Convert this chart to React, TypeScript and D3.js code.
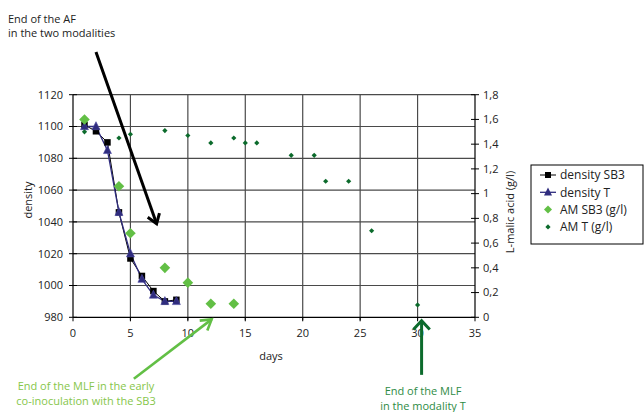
import React from 'react';
import * as d3 from 'd3';

const days = [1, 2, 3, 4, 5, 6, 7, 8, 9];
const densitySB3 = [1101, 1097, 1090, 1046, 1017, 1006, 996.5, 990, 991];
const densityT = [1100, 1100, 1085, 1046, 1020, 1004, 994, 990, 990];
const amSB3Days = [1, 4, 5, 8, 10, 12, 14];
const amSB3 = [1.6, 1.06, 0.68, 0.4, 0.28, 0.11, 0.11];
const amTDays = [1, 4, 5, 8, 10, 12, 14, 15, 16, 19, 21, 22, 24, 26, 30];
const amT = [1.5, 1.45, 1.48, 1.51, 1.47, 1.41, 1.45, 1.41, 1.41, 1.31, 1.31, 1.1, 1.1, 0.7, 0.1];
const xTicks = [0, 5, 10, 15, 20, 25, 30, 35];
const densityTicks = [980, 1000, 1020, 1040, 1060, 1080, 1100, 1120];
const malicTicks = [0, 0.2, 0.4, 0.6, 0.8, 1, 1.2, 1.4, 1.6, 1.8];
const legendItems = ['density SB3', 'density T', 'AM SB3 (g/l)', 'AM T (g/l)'];

const FONT = "'Open Sans', 'Noto Sans', sans-serif";
const NAVY = '#2f2c7e';
const LIGHT = '#62bf45';
const DARK = '#0c6b2c';

export default function App() {
  const W = 644, H = 412;
  const x = d3.scaleLinear().domain([0, 35]).range([73, 475]);
  const yL = d3.scaleLinear().domain([980, 1120]).range([317.3, 94.7]);
  const yR = d3.scaleLinear().domain([0, 1.8]).range([317.3, 94.7]);
  const pathSB3 = d3.line<number>().x((_, i) => x(days[i])).y(d => yL(d))(densitySB3) || '';
  const pathT = d3.line<number>().x((_, i) => x(days[i])).y(d => yL(d))(densityT) || '';
  const fmtR = (v: number) => (v === 0 ? '0' : d3.format('~g')(+v.toFixed(1))).replace('.', ',');

  const sq = (cx: number, cy: number, s: number) => `M${cx - s / 2},${cy - s / 2}h${s}v${s}h${-s}Z`;
  const tri = (cx: number, cy: number, s: number) =>
    `M${cx},${cy - s * 0.6}L${cx + s / 2},${cy + s * 0.4}L${cx - s / 2},${cy + s * 0.4}Z`;
  const dia = (cx: number, cy: number, r: number) => `M${cx},${cy - r}L${cx + r},${cy}L${cx},${cy + r}L${cx - r},${cy}Z`;

  const arrow = (x1: number, y1: number, x2: number, y2: number, len: number, ang: number) => {
    const a = Math.atan2(y1 - y2, x1 - x2);
    const p1 = [x2 + len * Math.cos(a + ang), y2 + len * Math.sin(a + ang)];
    const p2 = [x2 + len * Math.cos(a - ang), y2 + len * Math.sin(a - ang)];
    return {
      shaft: `M${x1},${y1}L${x2},${y2}`,
      head: `M${p1[0]},${p1[1]}L${x2},${y2}L${p2[0]},${p2[1]}`,
    };
  };
  const a1 = arrow(x(2.0), yL(1146.8), x(7.28), yL(1038.8), 11, 0.6);
  const a2 = arrow(x(5.3), yL(941.3), x(12.07), yL(978.7), 12, 0.55);
  const a3 = arrow(x(30.35), yL(943.8), x(30.35), yL(977.9), 12, 0.75);

  const lx = 531, ly = 165, lw = 112, lh = 79;

  return (
    <svg width={W} height={H} style={{ position: 'absolute', left: 0, top: 0 }} fontFamily={FONT}>
      <rect width={W} height={H} fill="#fff" />
      {/* gridlines */}
      {densityTicks.slice(1).map(t => (
        <line key={'h' + t} x1={x(0)} x2={x(35)} y1={yL(t)} y2={yL(t)} stroke="#4a4a4a" strokeWidth={1.2} />
      ))}
      {xTicks.slice(1, -1).map(t => (
        <line key={'v' + t} x1={x(t)} x2={x(t)} y1={yL(1120)} y2={yL(980) + 3} stroke="#4a4a4a" strokeWidth={1.2} />
      ))}
      {/* axes */}
      <line x1={x(0)} x2={x(35)} y1={yL(980)} y2={yL(980)} stroke="#000" strokeWidth={1.2} />
      <line x1={x(0)} x2={x(0)} y1={yL(1120)} y2={yL(980)} stroke="#000" strokeWidth={1.2} />
      <line x1={x(35)} x2={x(35)} y1={yL(1120)} y2={yL(980)} stroke="#000" strokeWidth={1.2} />
      {densityTicks.map(t => (
        <g key={'lt' + t}>
          <line x1={x(0) - 4} x2={x(0) + 4} y1={yL(t)} y2={yL(t)} stroke="#000" />
          <text x={x(0) - 10} y={yL(t)} dy="0.35em" textAnchor="end" fontSize={11} fill="#222">{t}</text>
        </g>
      ))}
      {malicTicks.map(t => (
        <g key={'rt' + t}>
          <line x1={x(35) - 4} x2={x(35) + 4} y1={yR(t)} y2={yR(t)} stroke="#000" />
          <text x={x(35) + 8} y={yR(t)} dy="0.35em" textAnchor="start" fontSize={11} fill="#222">{fmtR(t)}</text>
        </g>
      ))}
      {xTicks.map(t => (
        <g key={'xt' + t}>
          <line x1={x(t)} x2={x(t)} y1={yL(980)} y2={yL(980) + 4} stroke="#000" />
          <text x={x(t)} y={yL(980) + 20} textAnchor="middle" fontSize={11} fill="#222">{t}</text>
        </g>
      ))}
      <text transform={`translate(32,${200}) rotate(-90)`} textAnchor="middle" fontSize={11} fill="#222">density</text>
      <text transform={`translate(514,${212}) rotate(-90)`} textAnchor="middle" fontSize={11} fill="#222">L-malic acid (g/l)</text>
      <text x={271} y={360} textAnchor="middle" fontSize={11} fill="#222">days</text>

      {/* density lines */}
      <path d={pathSB3} fill="none" stroke="#000" strokeWidth={1} />
      <path d={pathT} fill="none" stroke={NAVY} strokeWidth={1.3} />
      {densitySB3.map((v, i) => <path key={'s' + i} d={sq(x(days[i]), yL(v), 6.5)} fill="#000" />)}
      {densityT.map((v, i) => <path key={'t' + i} d={tri(x(days[i]), yL(v), 8)} fill={NAVY} stroke="#4a47a0" strokeWidth={0.6} />)}
      {amSB3.map((v, i) => <path key={'a' + i} d={dia(x(amSB3Days[i]), yR(v), 5.3)} fill={LIGHT} />)}
      {amT.map((v, i) => <path key={'b' + i} d={dia(x(amTDays[i]), yR(v), 2.6)} fill={DARK} />)}

      {/* arrows */}
      <g fill="none" strokeLinecap="butt">
        <path d={a1.shaft} stroke="#000" strokeWidth={3} />
        <path d={a1.head} stroke="#000" strokeWidth={3} />
        <path d={a2.shaft} stroke={LIGHT} strokeWidth={2.6} />
        <path d={a2.head} stroke={LIGHT} strokeWidth={2.6} />
        <path d={a3.shaft} stroke={DARK} strokeWidth={3} />
        <path d={a3.head} stroke={DARK} strokeWidth={3} />
      </g>

      {/* annotations */}
      <text x={8} y={23} fontSize={11} fill="#222">End of the AF</text>
      <text x={8} y={37} fontSize={11} fill="#222">in the two modalities</text>
      <text x={86} y={390} textAnchor="middle" fontSize={11} fill="#86c64a">End of the MLF in the early</text>
      <text x={86} y={405} textAnchor="middle" fontSize={11} fill="#86c64a">co-inoculation with the SB3</text>
      <text x={423} y={395} textAnchor="middle" fontSize={11} fill="#2e8b45">End of the MLF</text>
      <text x={423} y={409.5} textAnchor="middle" fontSize={11} fill="#2e8b45">in the modality T</text>

      {/* legend */}
      <rect x={lx} y={ly} width={lw} height={lh} fill="#fff" stroke="#000" strokeWidth={1} />
      {legendItems.map((name, i) => {
        const cy = ly + 10 + i * 17.3;
        const cx = lx + 17;
        return (
          <g key={name}>
            {i === 0 && <line x1={cx - 8} x2={cx + 8} y1={cy} y2={cy} stroke="#000" />}
            {i === 0 && <path d={sq(cx, cy, 6)} fill="#000" />}
            {i === 1 && <line x1={cx - 8} x2={cx + 8} y1={cy} y2={cy} stroke={NAVY} strokeWidth={1.3} />}
            {i === 1 && <path d={tri(cx, cy, 8)} fill={NAVY} />}
            {i === 2 && <path d={dia(cx, cy, 4)} fill={LIGHT} />}
            {i === 3 && <path d={dia(cx, cy, 2.6)} fill={DARK} />}
            <text x={lx + 29} y={cy} dy="0.35em" fontSize={12} fill="#222">{name}</text>
          </g>
        );
      })}
    </svg>
  );
}
